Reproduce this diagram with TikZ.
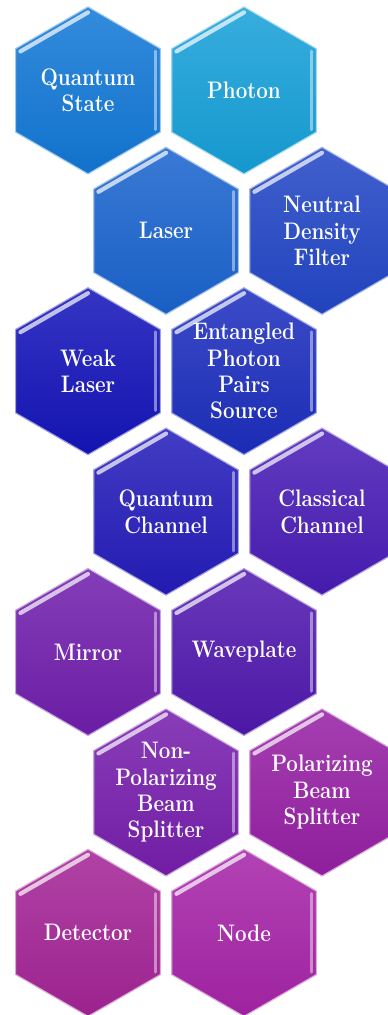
\documentclass[tikz,border=0pt]{standalone}
\usepackage{fontspec}
\usepackage{xcolor}
\usepackage{tikz}
\usetikzlibrary{shapes.geometric,calc}
\definecolor{qstate}{RGB}{18,120,214}
\definecolor{photon}{RGB}{22,160,216}
\definecolor{laser}{RGB}{26,100,206}
\definecolor{ndfilter}{RGB}{34,70,198}
\definecolor{weaklaser}{RGB}{20,20,186}
\definecolor{entangled}{RGB}{28,46,190}
\definecolor{qchannel}{RGB}{36,28,186}
\definecolor{cchannel}{RGB}{72,28,182}
\definecolor{mirror}{RGB}{112,30,172}
\definecolor{waveplate}{RGB}{80,24,174}
\definecolor{nonpbs}{RGB}{118,30,172}
\definecolor{pbs}{RGB}{150,32,164}
\definecolor{detector}{RGB}{164,36,150}
\definecolor{nodecol}{RGB}{166,36,168}

\begin{document}
\begin{tikzpicture}[
  hexa/.style={regular polygon, regular polygon sides=6, shape border rotate=30,
    minimum size=4.175cm, inner sep=0pt, top color=#1!86!white,
    bottom color=#1!95!black, draw=#1!40!white, line width=0.8pt},
  txt/.style={text=white, align=center, inner sep=0pt, xscale=0.86,
    transform shape, font=\bfseries\fontsize{17}{18.8}\selectfont},
  hilite/.style={white, opacity=0.7, line width=3pt, line cap=round},
  sidelite/.style={white, opacity=0.45, line width=2.2pt, line cap=round},
]
  \path[use as bounding box] (0,0) rectangle (9.7,-25.375);
  % Row 1
  \node[hexa=qstate] (qs) at (2.2,-2.26) {};
  \node[hexa=photon] (ph) at (6.1,-2.26) {};
  % Row 2
  \node[hexa=laser] (la) at (4.15,-5.77) {};
  \node[hexa=ndfilter] (nd) at (8.05,-5.77) {};
  % Row 3
  \node[hexa=weaklaser] (wl) at (2.2,-9.28) {};
  \node[hexa=entangled] (ep) at (6.1,-9.28) {};
  % Row 4
  \node[hexa=qchannel] (qc) at (4.15,-12.79) {};
  \node[hexa=cchannel] (cc) at (8.05,-12.79) {};
  % Row 5
  \node[hexa=mirror] (mi) at (2.2,-16.30) {};
  \node[hexa=waveplate] (wp) at (6.1,-16.30) {};
  % Row 6
  \node[hexa=nonpbs] (np) at (4.15,-19.81) {};
  \node[hexa=pbs] (pb) at (8.05,-19.81) {};
  % Row 7
  \node[hexa=detector] (de) at (2.2,-23.32) {};
  \node[hexa=nodecol] (no) at (6.1,-23.32) {};
  % Bevel highlights
  \foreach \n in {qs,ph,la,nd,wl,ep,qc,cc,mi,wp,np,pb,de,no} {
    \draw[hilite] ($(\n.center)+(150:1.95)$) -- ($(\n.center)+(90:1.95)$);
    \draw[sidelite] ($(\n.center)+(30:1.96)$) -- ($(\n.center)+(-30:1.96)$);
  }
  % Labels
  \node[txt] (qs-t) at (qs) {Quantum\\State};
  \node[txt] (ph-t) at (ph) {Photon};
  \node[txt] (la-t) at (la) {Laser};
  \node[txt] (nd-t) at (nd) {Neutral\\Density\\Filter};
  \node[txt] (wl-t) at (wl) {Weak\\Laser};
  \node[txt] (ep-t) at (ep) {Entangled\\Photon\\Pairs\\Source};
  \node[txt] (qc-t) at (qc) {Quantum\\Channel};
  \node[txt] (cc-t) at (cc) {Classical\\Channel};
  \node[txt] (mi-t) at (mi) {Mirror};
  \node[txt] (wp-t) at (wp) {Waveplate};
  \node[txt] (np-t) at (np) {Non-\\Polarizing\\Beam\\Splitter};
  \node[txt] (pb-t) at (pb) {Polarizing\\Beam\\Splitter};
  \node[txt] (de-t) at (de) {Detector};
  \node[txt] (no-t) at (no) {Node};
\end{tikzpicture}
\end{document}
